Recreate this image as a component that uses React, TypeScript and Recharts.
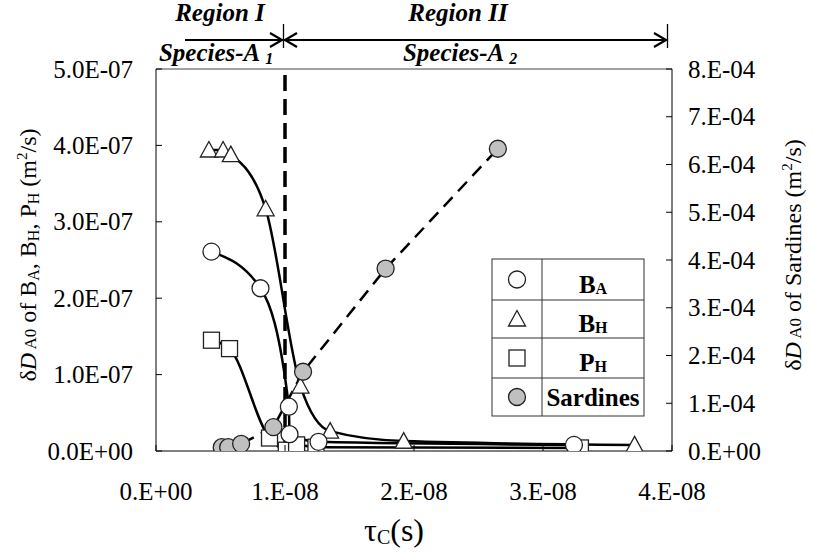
import React from 'react';
import { ComposedChart, Line, XAxis, YAxis, ReferenceLine } from 'recharts';

// ---- data (tau_C in s, deltaD_A0 in m^2/s) ----
const baTau = [0.43e-8, 0.81e-8, 1.03e-8, 1.035e-8, 1.26e-8, 3.24e-8];
const baD = [2.61e-7, 2.13e-7, 0.58e-7, 0.22e-7, 0.12e-7, 0.08e-7];

const bhTau = [0.41e-8, 0.52e-8, 0.58e-8, 0.85e-8, 1.12e-8, 1.35e-8, 1.92e-8, 3.71e-8];
const bhD = [3.94e-7, 3.94e-7, 3.88e-7, 3.17e-7, 0.85e-7, 0.26e-7, 0.13e-7, 0.08e-7];

const phTau = [0.43e-8, 0.57e-8, 0.88e-8, 1.01e-8, 1.09e-8, 1.24e-8, 3.29e-8];
const phD = [1.45e-7, 1.34e-7, 0.17e-7, 0.01e-7, 0.08e-7, 0.05e-7, 0.04e-7];

const sarTau = [0.51e-8, 0.56e-8, 0.66e-8, 0.91e-8, 1.14e-8, 1.78e-8, 2.65e-8];
const sarD = [0.08e-4, 0.08e-4, 0.15e-4, 0.5e-4, 1.66e-4, 3.82e-4, 6.33e-4];

const xTicks = [0, 1e-8, 2e-8, 3e-8, 4e-8];
const xTickLabels = ['0.E+00', '1.E-08', '2.E-08', '3.E-08', '4.E-08'];
const leftTicks = [0, 1e-7, 2e-7, 3e-7, 4e-7, 5e-7];
const leftTickLabels = ['0.0E+00', '1.0E-07', '2.0E-07', '3.0E-07', '4.0E-07', '5.0E-07'];
const rightTicks = [0, 1e-4, 2e-4, 3e-4, 4e-4, 5e-4, 6e-4, 7e-4, 8e-4];
const rightTickLabels = ['0.E+00', '1.E-04', '2.E-04', '3.E-04', '4.E-04', '5.E-04', '6.E-04', '7.E-04', '8.E-04'];

const regionBoundary = 1e-8;

const zip = (xs: number[], ys: number[]) => xs.map((x, i) => ({ x, y: ys[i] }));
const baData = zip(baTau, baD);
const bhData = zip(bhTau, bhD);
const phData = zip(phTau, phD);
const sarData = zip(sarTau, sarD);

const FONT = '"Liberation Serif", "Times New Roman", serif';
const MS = '#222';

const CircleDot = (p: any) => (
  <circle key={`c${p.index}`} cx={p.cx} cy={p.cy} r={8.5} fill="#fff" stroke={MS} strokeWidth={1.3} />
);
const GrayDot = (p: any) => (
  <circle key={`g${p.index}`} cx={p.cx} cy={p.cy} r={8.5} fill="#c0c0c0" stroke={MS} strokeWidth={1.3} />
);
const TriDot = (p: any) => (
  <path
    key={`t${p.index}`}
    d={`M${p.cx},${p.cy - 8.5} L${p.cx + 8.5},${p.cy + 7} L${p.cx - 8.5},${p.cy + 7} Z`}
    fill="#fff"
    stroke={MS}
    strokeWidth={1.3}
  />
);
const SqDot = (p: any) => (
  <rect key={`s${p.index}`} x={p.cx - 8} y={p.cy - 8} width={16} height={16} fill="#fff" stroke={MS} strokeWidth={1.3} />
);

const LeftTick = (p: any) => (
  <g>
    <line x1={p.x} x2={p.x + 6} y1={p.y} y2={p.y} stroke="#000" strokeWidth={1} />
    <text x={p.x - 23} y={p.y + 8.5} textAnchor="end" fontFamily={FONT} fontSize={25} fill="#000">
      {leftTickLabels[p.index]}
    </text>
  </g>
);
const RightTick = (p: any) => (
  <g>
    <line x1={p.x} x2={p.x - 6} y1={p.y} y2={p.y} stroke="#000" strokeWidth={1} />
    <text x={p.x + 16} y={p.y + 8.5} textAnchor="start" fontFamily={FONT} fontSize={25} fill="#000">
      {rightTickLabels[p.index]}
    </text>
  </g>
);
const BottomTick = (p: any) => (
  <g>
    <line x1={p.x} x2={p.x} y1={p.y} y2={p.y - 6} stroke="#000" strokeWidth={1} />
    <text x={p.x} y={p.y + 49} textAnchor="middle" fontFamily={FONT} fontSize={25} fill="#000">
      {xTickLabels[p.index]}
    </text>
  </g>
);

const Arrow = ({ x, y, dir }: { x: number; y: number; dir: number }) => (
  <path d={`M${x - dir * 12},${y - 7} L${x},${y} L${x - dir * 12},${y + 7}`} fill="none" stroke="#000" strokeWidth={2.2} />
);

const Overlay = () => {
  const rows = [279.5, 319, 358, 397];
  const mx = 517;
  const tx = 593;
  return (
    <svg width={813} height={552} style={{ position: 'absolute', left: 0, top: 0, pointerEvents: 'none' }}>
      {/* region annotations */}
      <g fontFamily={FONT} fontWeight="bold" fontStyle="italic" fontSize={25} fill="#000" textAnchor="middle">
        <text x={220} y={21}>Region I</text>
        <text x={216} y={61}>
          Species-A <tspan fontSize={16} dy={3}>1</tspan>
        </text>
        <text x={458} y={21}>Region II</text>
        <text x={460} y={61}>
          Species-A <tspan fontSize={16} dy={3}>2</tspan>
        </text>
      </g>
      <line x1={185} x2={283} y1={40} y2={40} stroke="#000" strokeWidth={2.2} />
      <Arrow x={282} y={40} dir={1} />
      <line x1={283} x2={667} y1={40} y2={40} stroke="#000" strokeWidth={2.2} />
      <Arrow x={285} y={40} dir={-1} />
      <Arrow x={666} y={40} dir={1} />
      <line x1={283.5} x2={283.5} y1={24} y2={48} stroke="#000" strokeWidth={1.3} />
      <line x1={667.5} x2={667.5} y1={24} y2={48} stroke="#000" strokeWidth={1.3} />

      {/* axis titles */}
      <text
        transform="translate(36,255) rotate(-90)"
        textAnchor="middle"
        fontFamily={FONT}
        fontSize={24}
        fill="#000"
      >
        δ<tspan fontStyle="italic">D</tspan>
        <tspan fontSize={17}> A0</tspan> of B<tspan fontSize={16} dy={3}>A</tspan>
        <tspan dy={-3}>, B</tspan>
        <tspan fontSize={16} dy={3}>H</tspan>
        <tspan dy={-3}>, P</tspan>
        <tspan fontSize={16} dy={3}>H</tspan>
        <tspan dy={-3}> (m</tspan>
        <tspan fontSize={15} dy={-9}>2</tspan>
        <tspan dy={9}>/s)</tspan>
      </text>
      <text
        transform="translate(801,255) rotate(-90)"
        textAnchor="middle"
        fontFamily={FONT}
        fontSize={24}
        fill="#000"
      >
        δ<tspan fontStyle="italic">D</tspan>
        <tspan fontSize={17}> A0</tspan> of Sardines (m<tspan fontSize={15} dy={-9}>2</tspan>
        <tspan dy={9}>/s)</tspan>
      </text>
      <text x={394} y={541} textAnchor="middle" fontFamily={FONT} fontSize={32} fill="#000">
        τ<tspan fontSize={20} dy={3}>C</tspan>
        <tspan dy={-3}>(s)</tspan>
      </text>

      {/* legend table */}
      <rect x={492} y={259} width={152} height={157} fill="#fff" stroke="#333" strokeWidth={1} />
      <line x1={492} x2={644} y1={300} y2={300} stroke="#333" strokeWidth={1} />
      <line x1={492} x2={644} y1={338} y2={338} stroke="#333" strokeWidth={1} />
      <line x1={492} x2={644} y1={378} y2={378} stroke="#333" strokeWidth={1} />
      <line x1={542} x2={542} y1={259} y2={416} stroke="#333" strokeWidth={1} />
      <circle cx={mx} cy={rows[0]} r={8.5} fill="#fff" stroke={MS} strokeWidth={1.3} />
      <path d={`M${mx},${rows[1] - 8.5} L${mx + 8.5},${rows[1] + 7} L${mx - 8.5},${rows[1] + 7} Z`} fill="#fff" stroke={MS} strokeWidth={1.3} />
      <rect x={mx - 8} y={rows[2] - 8} width={16} height={16} fill="#fff" stroke={MS} strokeWidth={1.3} />
      <circle cx={mx} cy={rows[3]} r={8.5} fill="#c0c0c0" stroke={MS} strokeWidth={1.3} />
      <g fontFamily={FONT} fontWeight="bold" fontSize={25} fill="#000" textAnchor="middle">
        <text x={tx} y={rows[0] + 13}>
          B<tspan fontSize={16} dy={1}>A</tspan>
        </text>
        <text x={tx} y={rows[1] + 13}>
          B<tspan fontSize={16} dy={1}>H</tspan>
        </text>
        <text x={tx} y={rows[2] + 13}>
          P<tspan fontSize={16} dy={1}>H</tspan>
        </text>
        <text x={tx} y={rows[3] + 9}>Sardines</text>
      </g>
    </svg>
  );
};

export default function App() {
  return (
    <div style={{ position: 'absolute', left: 0, top: 0, width: 813, height: 552, background: '#fff' }}>
      <div style={{ position: 'absolute', left: 0, top: 0 }}>
        <ComposedChart width={813} height={552} margin={{ top: 69, right: 6, bottom: 6, left: 6 }}>
          <XAxis
            dataKey="x"
            type="number"
            domain={[0, 4e-8]}
            ticks={xTicks}
            interval={0}
            height={95}
            tickSize={0}
            tickMargin={0}
            tickLine={false}
            tick={BottomTick}
            axisLine={{ stroke: '#000', strokeWidth: 1 }}
            allowDataOverflow
          />
          <YAxis
            yAxisId="left"
            type="number"
            domain={[0, 5e-7]}
            ticks={leftTicks}
            interval={0}
            width={150}
            tickSize={0}
            tickMargin={0}
            tickLine={false}
            tick={LeftTick}
            axisLine={{ stroke: '#000', strokeWidth: 1 }}
            allowDataOverflow
          />
          <YAxis
            yAxisId="right"
            orientation="right"
            type="number"
            domain={[0, 8e-4]}
            ticks={rightTicks}
            interval={0}
            width={135}
            tickSize={0}
            tickMargin={0}
            tickLine={false}
            tick={RightTick}
            axisLine={{ stroke: '#000', strokeWidth: 1 }}
            allowDataOverflow
          />
          <ReferenceLine yAxisId="left" y={5e-7} stroke="#444" strokeWidth={1} />
          <ReferenceLine
            yAxisId="left"
            x={regionBoundary}
            stroke="#000"
            strokeWidth={3.5}
            strokeDasharray="16 8"
          />
          <Line
            data={phData}
            dataKey="y"
            yAxisId="left"
            type="monotone"
            stroke="#000"
            strokeWidth={2.5}
            dot={SqDot}
            activeDot={false}
            isAnimationActive={false}
          />
          <Line
            data={bhData}
            dataKey="y"
            yAxisId="left"
            type="monotone"
            stroke="#000"
            strokeWidth={2.5}
            dot={TriDot}
            activeDot={false}
            isAnimationActive={false}
          />
          <Line
            data={baData}
            dataKey="y"
            yAxisId="left"
            type="monotone"
            stroke="#000"
            strokeWidth={2.5}
            dot={CircleDot}
            activeDot={false}
            isAnimationActive={false}
          />
          <Line
            data={sarData}
            dataKey="y"
            yAxisId="right"
            type="linear"
            stroke="#000"
            strokeWidth={2.5}
            strokeDasharray="13 8"
            dot={GrayDot}
            activeDot={false}
            isAnimationActive={false}
          />
        </ComposedChart>
      </div>
      <Overlay />
    </div>
  );
}
